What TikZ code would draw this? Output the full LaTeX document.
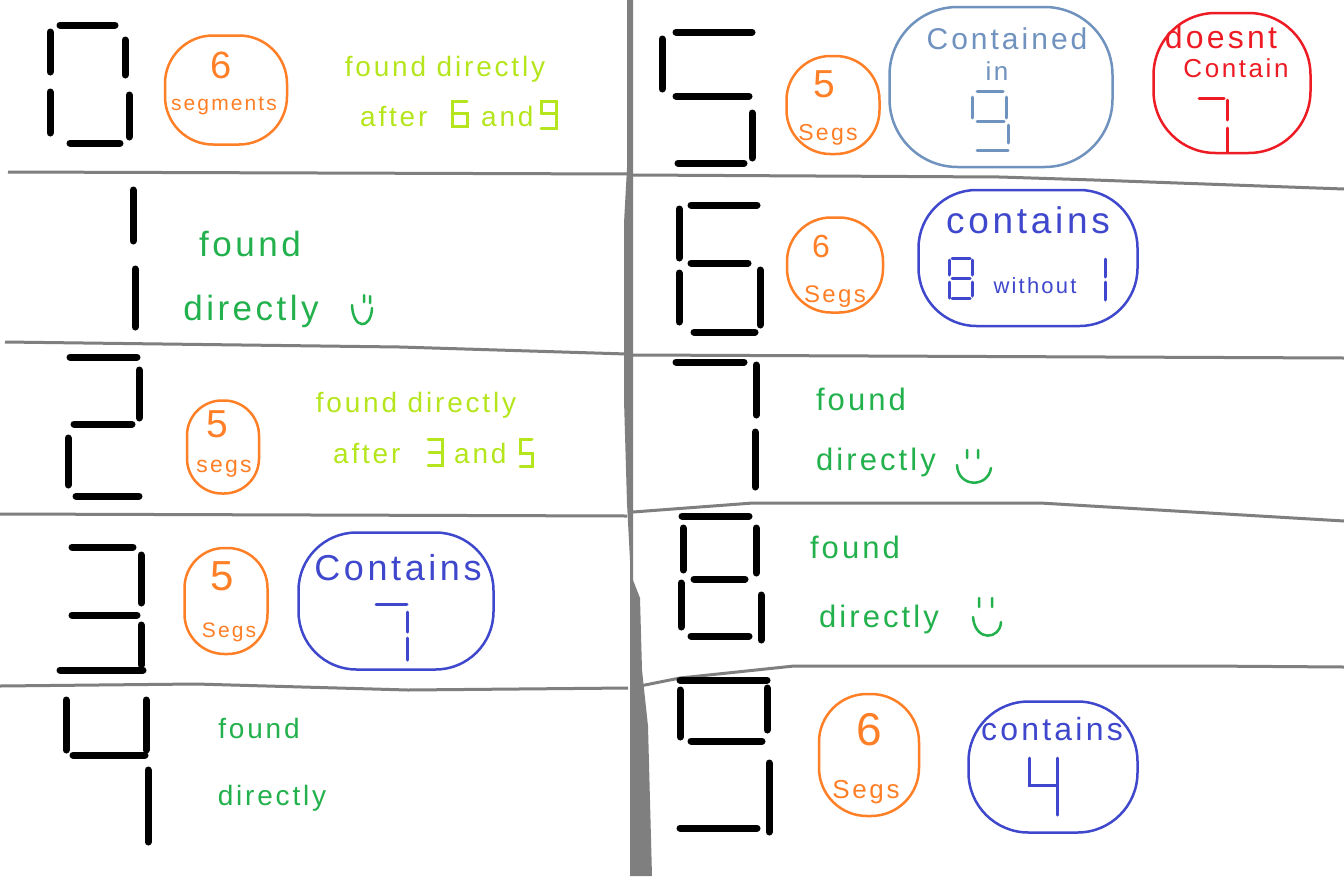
\documentclass[tikz,border=0pt]{standalone}
\usepackage{fontspec}
\newfontfamily\handfont{Liberation Sans}[LetterSpace=10]
\usepackage{tikz}

\definecolor{paintorange}{HTML}{FF7F27}
\definecolor{paintlime}{HTML}{B5E61D}
\definecolor{paintgreen}{HTML}{22B14C}
\definecolor{paintblue}{HTML}{3F48CC}
\definecolor{paintsky}{HTML}{7092BE}
\definecolor{paintred}{HTML}{ED1C24}
\definecolor{paintgray}{HTML}{7F7F7F}

\tikzset{
  seg/.style={line width=7pt, line cap=round},
  smallseg/.style={line width=3pt, line cap=round},
  sep/.style={paintgray, line width=3pt},
  blob/.style={draw, line width=2.5pt, rounded corners=#1, inner sep=0pt},
  hand/.style={font={\handfont\fontsize{#1}{#1}\selectfont}, inner sep=0pt, anchor=base},
  smile/.style={paintgreen, line width=2.5pt, line cap=round}
}

\begin{document}
\begin{tikzpicture}[x=1pt, y=-1pt]
\useasboundingbox (0,0) rectangle (1344,876);
\fill[white] (0,0) rectangle (1344,876);

\draw[sep] (8,172) -- (630,174);
\draw[sep] (5,342) -- (400,347) -- (627,354);
\draw[sep] (0,514) -- (627,516);
\draw[sep] (0,686) -- (196,684) -- (408,690) -- (628,688);
\draw[sep] (633,175) -- (1000,177) -- (1094,180) -- (1344,189);
\draw[sep] (633,355) -- (1344,358);
\draw[sep] (633,512) -- (753,503) -- (1040,503) -- (1344,521);
\draw[sep] (640,686) -- (680,678) -- (794,666) -- (1204,666) -- (1344,667);
\fill[paintgray] (627,0) -- (633,0) -- (633,580) -- (640,598) -- (642,670) -- (648,726) -- (652,876) -- (630,876) -- (630,560) -- (627,503) -- (624,400) -- (624,223) -- (627,168) -- cycle;

\draw[seg] (60,25) -- (115,25) (50,32) -- (50,72) (125,40) -- (125,75) (50,92) -- (50,133) (129,95) -- (129,137) (70,143) -- (120,143);
\node[blob=48pt, paintorange, minimum width=122pt, minimum height=109pt] (oval0) at (226,90) {};
\node[hand=38, paintorange] (six0) at (221,78) {6};
\node[hand=21, paintorange] (segs0) at (224,110) {segments};
\node[hand=28, paintlime] (found0) at (445,76) {found directly};
\node[hand=28, paintlime, anchor=base west] (after0) at (360,126) {after};
\draw[smallseg, paintlime] (467,101) -- (452,101) -- (452,126) -- (467,126) -- (467,113) -- (452,113);
\node[hand=28, paintlime, anchor=base west] (and0) at (481,126) {and};
\draw[smallseg, paintlime] (541,113) -- (541,101) -- (556,101) -- (556,128) -- (541,128) (541,113) -- (556,113);

\draw[seg] (133,190) -- (133,241) (135,269) -- (135,327);
\node[hand=35, paintgreen] (found1) at (250,256) {found};
\node[hand=35, paintgreen] (direct1) at (251,320) {directly};
\draw[smile] (352,305) .. controls (353,330) and (371,330) .. (372,308) (364,295) -- (364,302) (370,296) -- (370,303);

\draw[seg] (70,357) -- (137,357) (139,370) -- (139,418) (74,424) -- (132,424) (68,438) -- (68,485) (76,496) -- (139,496);
\node[blob=35pt, paintorange, minimum width=72pt, minimum height=93pt] (oval2) at (223,447) {};
\node[hand=39, paintorange] (five2) at (217,437) {5};
\node[hand=23, paintorange] (segs2) at (224,472) {segs};
\node[hand=28, paintlime] (found2) at (416,412) {found directly};
\node[hand=28, paintlime, anchor=base west] (after2) at (333,463) {after};
\draw[smallseg, paintlime] (428,439) -- (442,439) -- (442,465) -- (428,465) (429,452) -- (442,452);
\node[hand=28, paintlime, anchor=base west] (and2) at (454,463) {and};
\draw[smallseg, paintlime] (532,439) -- (520,439) -- (520,453) -- (532,453) -- (532,466) -- (520,466);

\draw[seg] (72,547) -- (133,547) (141,555) -- (141,603) (72,615) -- (137,615) (141,625) -- (141,665) (60,670) -- (143,670);
\node[blob=40pt, paintorange, minimum width=83pt, minimum height=106pt] (oval3) at (226,601) {};
\node[hand=42, paintorange] (five3) at (222,590) {5};
\node[hand=21, paintorange] (segs3) at (229,637) {Segs};
\node[blob=58pt, paintblue, minimum width=195pt, minimum height=137pt] (blob3) at (396,601) {};
\node[hand=36, paintblue] (contains3) at (398,580) {Contains};
\draw[smallseg, paintblue] (376,604) -- (407,604) (407,612) -- (407,632) (407,638) -- (407,660);

\draw[seg] (66,700) -- (66,750) (146,700) -- (146,750) (73,755) -- (145,755) (148,770) -- (148,842);
\node[hand=28, paintgreen] (found4) at (259,738) {found};
\node[hand=28, paintgreen] (direct4) at (272,805) {directly};

\draw[seg] (676,32) -- (752,32) (662,39) -- (662,89) (676,96) -- (749,96) (752,113) -- (752,158) (678,163) -- (744,163);
\node[blob=44pt, paintorange, minimum width=93pt, minimum height=98pt] (oval5) at (833,105) {};
\node[hand=39, paintorange] (five5) at (824,97) {5};
\node[hand=23, paintorange] (segs5) at (828,140) {Segs};
\node[blob=68pt, paintsky, minimum width=223pt, minimum height=160pt] (blob5) at (1001,87) {};
\node[hand=30, paintsky] (contained5) at (1007,49) {Contained};
\node[hand=26, paintsky] (in5) at (997,80) {in};
\draw[smallseg, paintsky] (977,91) -- (1003,91) (972,97) -- (972,118) (1006,97) -- (1006,118) (977,121) -- (1004,121) (1008,125) -- (1008,143) (977,150) -- (1008,150);
\node[blob=62pt, paintred, minimum width=157pt, minimum height=140pt] (blob5r) at (1232,83) {};
\node[hand=32, paintred] (doesnt5) at (1221,48) {doesnt};
\node[hand=26, paintred] (contain5) at (1236,77) {Contain};
\draw[smallseg, paintred] (1199,98) -- (1224,98) (1227,100) -- (1227,120) (1227,128) -- (1227,152);

\draw[seg] (691,205) -- (757,205) (679,209) -- (679,258) (691,263) -- (748,263) (679,273) -- (679,322) (760,270) -- (760,325) (694,332) -- (755,332);
\node[blob=44pt, paintorange, minimum width=96pt, minimum height=95pt] (oval6) at (835,265) {};
\node[hand=32, paintorange] (six6) at (821,257) {6};
\node[hand=24, paintorange] (segs6) at (835,302) {Segs};
\node[blob=58pt, paintblue, minimum width=219pt, minimum height=136pt] (blob6) at (1028,258) {};
\node[hand=37, paintblue] (contains6) at (1028,233) {contains};
\draw[smallseg, paintblue] (952,258) -- (970,258) (949,260) -- (949,275) (972,260) -- (972,275) (952,278) -- (970,278) (949,282) -- (949,298) (972,282) -- (972,296) (952,298) -- (970,298);
\node[hand=22, paintblue] (without6) at (1035,293) {without};
\draw[smallseg, paintblue] (1105,259) -- (1105,277) (1105,282) -- (1105,300);

\draw[seg] (676,362) -- (744,362) (756,365) -- (756,415) (755,432) -- (755,487);
\node[hand=31, paintgreen] (found7) at (861,410) {found};
\node[hand=31, paintgreen] (direct7) at (876,470) {directly};
\draw[smile] (957,465) .. controls (958,488) and (988,488) .. (991,468) (967,450) -- (967,458) (978,450) -- (978,458);

\draw[seg] (682,516) -- (749,516) (683,528) -- (683,570) (756,528) -- (756,573) (694,579) -- (745,579) (681,583) -- (681,627) (761,595) -- (761,640) (691,636) -- (749,636);
\node[hand=31, paintgreen] (found8) at (855,558) {found};
\node[hand=31, paintgreen] (direct8) at (879,627) {directly};
\draw[smile] (973,617) .. controls (975,642) and (1000,640) .. (1001,622) (979,598) -- (979,607) (992,598) -- (992,607);

\draw[seg] (680,680) -- (767,680) (680,690) -- (680,737) (767,688) -- (767,730) (691,741) -- (762,741) (769,763) -- (769,832) (680,828) -- (757,828);
\node[blob=48pt, paintorange, minimum width=100pt, minimum height=122pt] (oval9) at (869,755) {};
\node[hand=46, paintorange] (six9) at (869,745) {6};
\node[hand=26, paintorange] (segs9) at (866,798) {Segs};
\node[blob=60pt, paintblue, minimum width=169pt, minimum height=131pt] (blob9) at (1053,767) {};
\node[hand=32, paintblue] (contains9) at (1052,740) {contains};
\draw[smallseg, paintblue] (1029,758) -- (1029,785) -- (1057,785) (1057,758) -- (1057,815);
\end{tikzpicture}
\end{document}
